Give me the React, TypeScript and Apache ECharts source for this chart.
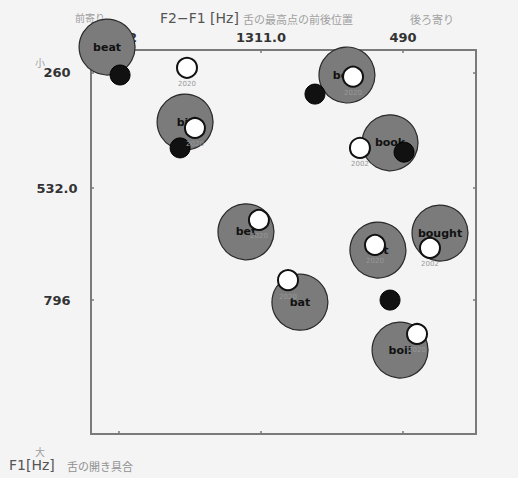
import React, { useEffect, useRef } from "react";
import * as echarts from "echarts";

// Axis tick values
const xTicks = [2132, 1311, 490];
const yTicks = [260, 532, 796];
const xLabelText: Record<number, string> = { 2132: "2132", 1311: "1311.0", 490: "490" };
const yLabelText: Record<number, string> = { 260: "260", 532: "532.0", 796: "796" };

// Reference vowels (large grey circles)
const words = ["beat", "bit", "boot", "book", "bet", "but", "bought", "bat", "boil"];
const wordF2F1 = [2201, 1750, 814, 565, 1398, 635, 276, 1086, 507];
const wordF1 = [199, 376, 265, 425, 635, 678, 638, 801, 914];

// Black points
const blackF2F1 = [2126, 999, 1779, 484, 565];
const blackF1 = [265, 310, 437, 447, 796];

// Hollow points with year labels
const hollowF2F1 = [1739, 779, 1693, 739, 1323, 652, 334, 1155, 409];
const hollowF1 = [248, 269, 390, 437, 607, 666, 673, 749, 876];
const hollowYears = ["2020", "2020", "2020", "2002", "2020", "2020", "2002", "2020", "2020"];

const AXIS_COLOR = "#7a7a7a";

export default function App() {
  const ref = useRef<HTMLDivElement>(null);
  useEffect(() => {
    if (!ref.current) return;
    const chart = echarts.init(ref.current, undefined, { renderer: "svg" });
    const xBase = {
      type: "value" as const,
      min: 68,
      max: 2294,
      inverse: true,
      splitLine: { show: false },
      axisLine: { show: true, lineStyle: { color: AXIS_COLOR, width: 2 } },
      axisTick: { show: true, inside: true, length: 3, customValues: xTicks, lineStyle: { color: AXIS_COLOR, width: 1.5 } },
    };
    const yBase = {
      type: "value" as const,
      min: 206,
      max: 1112,
      inverse: true,
      splitLine: { show: false },
      axisLine: { show: true, lineStyle: { color: AXIS_COLOR, width: 2 } },
      axisTick: { show: true, inside: true, length: 3, customValues: yTicks, lineStyle: { color: AXIS_COLOR, width: 1.5 } },
    };
    const small = { fontFamily: "Noto Sans CJK JP", fontSize: 10, fill: "#a0a0a0" };
    chart.setOption({
      animation: false,
      backgroundColor: "#f4f4f4",
      grid: { left: 91, right: 42, top: 50, bottom: 44 },
      xAxis: [
        {
          ...xBase,
          position: "top",
          axisLabel: {
            show: true,
            customValues: xTicks,
            formatter: (v: number) => xLabelText[v] ?? String(v),
            color: "#333",
            fontFamily: "DejaVu Sans",
            fontWeight: "bold",
            fontSize: 13,
            margin: 6,
          },
        },
        { ...xBase, position: "bottom", axisLabel: { show: false } },
      ],
      yAxis: [
        {
          ...yBase,
          position: "left",
          axisLabel: {
            show: true,
            customValues: yTicks,
            formatter: (v: number) => yLabelText[v] ?? String(v),
            color: "#333",
            fontFamily: "DejaVu Sans",
            fontWeight: "bold",
            fontSize: 13,
            align: "center",
            margin: 34,
            padding: [13, 0, 0, 0],
          },
        },
        { ...yBase, position: "right", axisLabel: { show: false } },
      ],
      graphic: [
        { type: "text", left: 160, top: 11, style: { text: "F2\u2212F1 [Hz]", fontFamily: "DejaVu Sans", fontSize: 14, fill: "#555" } },
        { type: "text", left: 243, top: 13, style: { ...small, text: "舌の最高点の前後位置", fontSize: 11 } },
        { type: "text", left: 75, top: 12, style: { ...small, text: "前寄り" } },
        { type: "text", left: 410, top: 13, style: { ...small, text: "後ろ寄り", fontSize: 11 } },
        { type: "text", left: 35, top: 57, style: { ...small, text: "小" } },
        { type: "text", left: 35, top: 446, style: { ...small, text: "大" } },
        { type: "text", left: 9, top: 458, style: { text: "F1[Hz]", fontFamily: "DejaVu Sans", fontSize: 14, fill: "#555" } },
        { type: "text", left: 67, top: 460, style: { ...small, text: "舌の開き具合", fontSize: 11, fill: "#909090" } },
      ],
      series: [
        {
          type: "scatter",
          name: "vowels",
          clip: false,
          z: 3,
          symbol: "circle",
          symbolSize: 56,
          itemStyle: { color: "#7b7b7b", borderColor: "#2a2a2a", borderWidth: 1.2, opacity: 1 },
          label: {
            show: true,
            position: "inside",
            formatter: (p: any) => p.name,
            color: "#111",
            fontFamily: "DejaVu Sans",
            fontWeight: "bold",
            fontSize: 11,
          },
          data: words.map((w, i) => ({ name: w, value: [wordF2F1[i], wordF1[i]] })),
        },
        {
          type: "scatter",
          name: "black",
          clip: false,
          z: 4,
          symbol: "circle",
          symbolSize: 20,
          itemStyle: { color: "#111", borderColor: "#000", borderWidth: 1, opacity: 1 },
          data: blackF2F1.map((x, i) => [x, blackF1[i]]),
        },
        {
          type: "scatter",
          name: "hollow",
          clip: false,
          z: 5,
          symbol: "circle",
          symbolSize: 20,
          itemStyle: { color: "#ffffff", borderColor: "#111", borderWidth: 2, opacity: 1 },
          label: {
            show: true,
            position: "bottom",
            distance: 2,
            formatter: (p: any) => p.name,
            color: "#999",
            fontFamily: "DejaVu Sans",
            fontSize: 7,
          },
          data: hollowF2F1.map((x, i) => ({ name: hollowYears[i], value: [x, hollowF1[i]] })),
        },
      ],
    });
    return () => chart.dispose();
  }, []);
  return <div ref={ref} style={{ position: "fixed", left: 0, top: 0, width: 518, height: 478 }} />;
}
